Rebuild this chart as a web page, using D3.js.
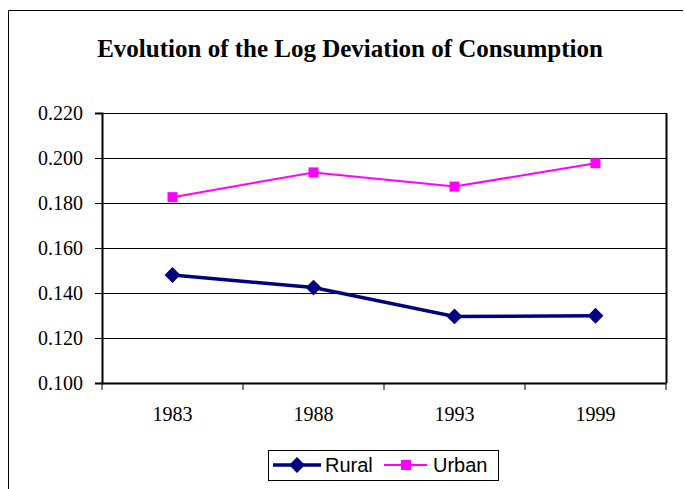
<!DOCTYPE html>
<html>
<head>
<meta charset="utf-8">
<script src="https://cdn.jsdelivr.net/npm/d3@7"></script>
<style>
  body { margin: 0; background: #fff; }
  svg { display: block; }
</style>
</head>
<body>
<svg id="chart" width="685" height="489"></svg>
<script>
// chart data
const years = ["1983", "1988", "1993", "1999"];
const rural = [0.148, 0.1424, 0.1296, 0.1299];
const urban = [0.1826, 0.1936, 0.1873, 0.1977];
const yTicks = [0.100, 0.120, 0.140, 0.160, 0.180, 0.200, 0.220];

const svg = d3.select("#chart");
const plot = { left: 102, right: 666, top: 113, bottom: 383 };
const serif = "'Liberation Serif', 'Times New Roman', serif";
const sans = "'Liberation Sans', Arial, sans-serif";

// outer frame (top and left edges only are visible)
svg.append("path")
  .attr("d", "M8.5,489V10.5H683")
  .attr("fill", "none").attr("stroke", "#000").attr("stroke-width", 1);

svg.append("text")
  .attr("x", 350).attr("y", 57)
  .attr("text-anchor", "middle")
  .attr("font-family", serif)
  .attr("font-weight", "bold").attr("font-size", 25)
  .text("Evolution of the Log Deviation of Consumption");

const x = d3.scaleBand().domain(years).range([plot.left, plot.right]);
const y = d3.scaleLinear().domain([0.1, 0.22]).range([plot.bottom, plot.top]);

// gridlines
svg.append("g").selectAll("line")
  .data(yTicks.slice(1))
  .join("line")
  .attr("x1", plot.left).attr("x2", plot.right)
  .attr("y1", d => Math.round(y(d)) + 0.5).attr("y2", d => Math.round(y(d)) + 0.5)
  .attr("stroke", "#000").attr("stroke-width", 1);

// plot frame (right side)
svg.append("line")
  .attr("x1", plot.right + 0.5).attr("x2", plot.right + 0.5)
  .attr("y1", plot.top).attr("y2", plot.bottom)
  .attr("stroke", "#000").attr("stroke-width", 2);

// y axis
const yAxis = svg.append("g")
  .attr("transform", `translate(${plot.left},0)`)
  .call(d3.axisLeft(y).tickValues(yTicks).tickFormat(d3.format(".3f")).tickSize(7).tickPadding(12));
yAxis.select(".domain").attr("stroke-width", 2);
yAxis.selectAll("text").style("font-family", serif).style("font-size", "20px").attr("fill", "#000");

// x axis
const xAxis = svg.append("g")
  .attr("transform", `translate(0,${plot.bottom})`)
  .call(d3.axisBottom(x).tickSize(0).tickPadding(24));
xAxis.select(".domain").attr("stroke-width", 2);
xAxis.selectAll("text").style("font-family", serif).style("font-size", "20px").attr("fill", "#000");
xAxis.selectAll(".sep")
  .data(d3.range(years.length + 1))
  .join("line")
  .attr("class", "sep")
  .attr("x1", i => plot.left + i * x.step()).attr("x2", i => plot.left + i * x.step())
  .attr("y1", 0).attr("y2", 7)
  .attr("stroke", "#000").attr("stroke-width", 1);

const cx = d => x(d) + x.bandwidth() / 2;
const line = d3.line().x(d => cx(d[0])).y(d => y(d[1]));

// urban series
svg.append("path")
  .datum(years.map((d, i) => [d, urban[i]]))
  .attr("d", line)
  .attr("fill", "none").attr("stroke", "#ff00ff").attr("stroke-width", 2);
svg.append("g").selectAll("rect")
  .data(years.map((d, i) => [d, urban[i]]))
  .join("rect")
  .attr("x", d => cx(d[0]) - 5).attr("y", d => y(d[1]) - 5)
  .attr("width", 10).attr("height", 10)
  .attr("fill", "#ff00ff");

// rural series
const diamond = d3.symbol().type(d3.symbolDiamond2).size(160);
svg.append("path")
  .datum(years.map((d, i) => [d, rural[i]]))
  .attr("d", line)
  .attr("fill", "none").attr("stroke", "#000080").attr("stroke-width", 3.5);
svg.append("g").selectAll("path")
  .data(years.map((d, i) => [d, rural[i]]))
  .join("path")
  .attr("d", diamond)
  .attr("transform", d => `translate(${cx(d[0])},${y(d[1])})`)
  .attr("fill", "#000080");

// legend
const lg = svg.append("g");
lg.append("rect")
  .attr("x", 268.5).attr("y", 450.5).attr("width", 230).attr("height", 30)
  .attr("fill", "#fff").attr("stroke", "#000").attr("stroke-width", 1);
lg.append("line").attr("x1", 273).attr("x2", 321).attr("y1", 465).attr("y2", 465)
  .attr("stroke", "#000080").attr("stroke-width", 3.5);
lg.append("path").attr("d", diamond).attr("transform", "translate(297,465)").attr("fill", "#000080");
lg.append("text").attr("x", 325).attr("y", 472)
  .attr("font-family", sans).attr("font-size", 20)
  .text("Rural");
lg.append("line").attr("x1", 384).attr("x2", 427).attr("y1", 465).attr("y2", 465)
  .attr("stroke", "#ff00ff").attr("stroke-width", 2);
lg.append("rect").attr("x", 401).attr("y", 460).attr("width", 10).attr("height", 10).attr("fill", "#ff00ff");
lg.append("text").attr("x", 433).attr("y", 472)
  .attr("font-family", sans).attr("font-size", 20)
  .text("Urban");
</script>
</body>
</html>
